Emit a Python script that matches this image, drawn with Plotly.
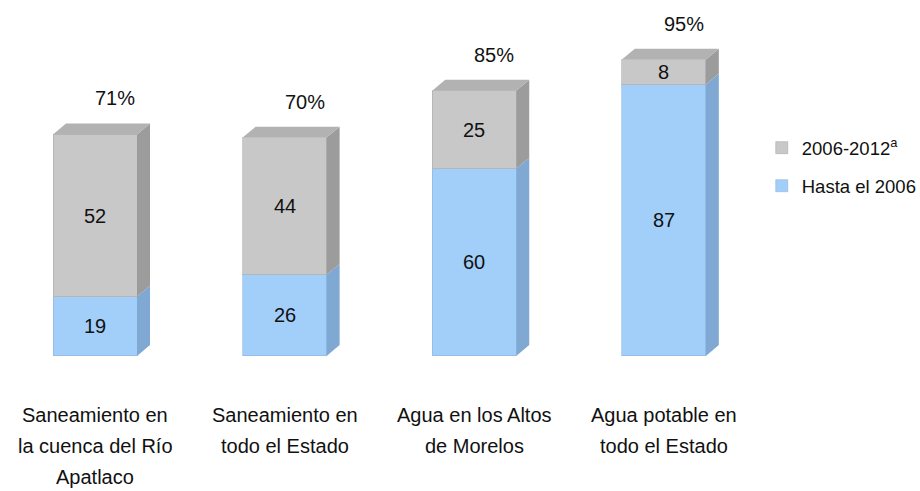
import plotly.graph_objects as go

# Categorías y valores (porcentaje de cobertura)
categorias = [
    "Saneamiento en<br>la cuenca del Río<br>Apatlaco",
    "Saneamiento en<br>todo el Estado",
    "Agua en los Altos<br>de Morelos",
    "Agua potable en<br>todo el Estado",
]
hasta_2006 = [19, 26, 60, 87]
periodo_2006_2012 = [52, 44, 25, 8]
totales = [a + b for a, b in zip(hasta_2006, periodo_2006_2012)]

FONT = "Liberation Sans, Arial, sans-serif"
AZUL, AZUL_LADO = "#a2cff9", "#7fa8d2"
GRIS, GRIS_LADO, GRIS_TAPA = "#c9c8c8", "#9c9c9c", "#b2b2b2"
TXT = dict(family=FONT, size=20, color="#111")

xs = list(range(len(categorias)))
ancho = 0.443          # ancho de la cara frontal
dx, dy = 0.0686, 3.5   # profundidad del efecto 3D

fig = go.Figure()
fig.add_trace(go.Bar(
    x=xs, y=hasta_2006, width=ancho, name="Hasta el 2006",
    marker=dict(color=AZUL, line=dict(color="rgba(140,180,220,0.6)", width=1)),
    legendgroup="hasta", legendrank=2, hoverinfo="skip",
))
fig.add_trace(go.Bar(
    x=xs, y=periodo_2006_2012, width=ancho, name="2006-2012<sup>a</sup>",
    marker=dict(color=GRIS, line=dict(color="rgba(170,170,170,0.6)", width=1)),
    legendgroup="periodo", legendrank=1, hoverinfo="skip",
))

# Caras laterales y superiores de cada columna
shapes = []
for x, a, t in zip(xs, hasta_2006, totales):
    izq, der = x - ancho / 2, x + ancho / 2
    shapes.append(dict(type="path", line=dict(width=0), fillcolor=AZUL_LADO,
                       path=f"M{der},0 L{der+dx},{dy} L{der+dx},{a+dy} L{der},{a} Z"))
    shapes.append(dict(type="path", line=dict(width=0), fillcolor=GRIS_LADO,
                       path=f"M{der},{a} L{der+dx},{a+dy} L{der+dx},{t+dy} L{der},{t} Z"))
    shapes.append(dict(type="path", line=dict(width=0), fillcolor=GRIS_TAPA,
                       path=f"M{izq},{t} L{izq+dx},{t+dy} L{der+dx},{t+dy} L{der},{t} Z"))

annotations = []
# Valores de cada segmento, centrados en su tramo
for x, a, b in zip(xs, hasta_2006, periodo_2006_2012):
    annotations.append(dict(x=x, y=a / 2, text=str(a), showarrow=False, font=TXT))
    annotations.append(dict(x=x, y=a + b / 2, text=str(b), showarrow=False, font=TXT))
# Porcentaje total sobre cada columna
for x, t in zip(xs, totales):
    annotations.append(dict(x=x, y=t, text=f"{t}%", showarrow=False,
                            xshift=20, yshift=36, yanchor="middle", font=TXT))
# Nombres de categoría, una línea por anotación
for x, c in zip(xs, categorias):
    for k, linea in enumerate(c.split("<br>")):
        annotations.append(dict(x=x, y=0.155, yref="paper", text=linea,
                                showarrow=False, yanchor="middle",
                                yshift=-31 * k, font=TXT))

fig.update_layout(
    width=920, height=491,
    margin=dict(l=0, r=0, t=0, b=0, autoexpand=False),
    barmode="stack",
    paper_bgcolor="white", plot_bgcolor="white",
    shapes=shapes, annotations=annotations,
    xaxis=dict(range=[-0.501, 4.351], visible=False, fixedrange=True),
    yaxis=dict(range=[-43.3, 114.1], visible=False, fixedrange=True),
    legend=dict(x=0.828, y=0.737, xanchor="left", yanchor="top",
                traceorder="grouped", tracegroupgap=11,
                font=dict(family=FONT, size=18.5, color="#111"),
                bgcolor="rgba(0,0,0,0)"),
    font=dict(family=FONT),
)

fig.write_html("out.html")
